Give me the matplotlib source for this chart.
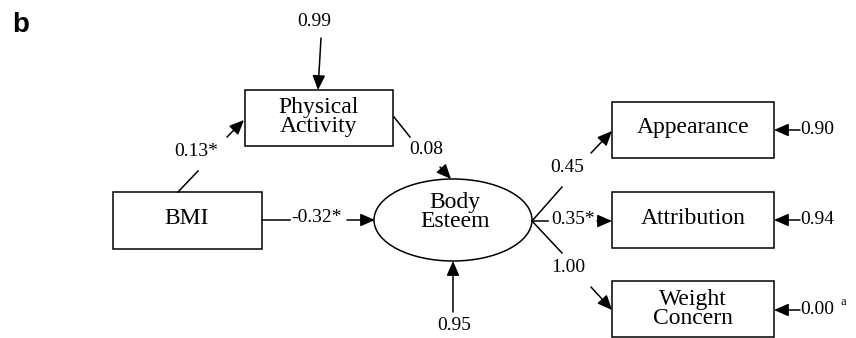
import matplotlib.pyplot as plt
from matplotlib.patches import Rectangle, Ellipse, FancyArrowPatch

# path model values
nodes = ['Physical\nActivity', 'BMI', 'Body\nEsteem', 'Appearance', 'Attribution', 'Weight\nConcern']
paths = ['0.13*', '0.08', '-0.32*', '0.45', '0.35*', '1.00']
residuals = ['0.99', '0.95', '0.90', '0.94', '0.00']

# layout in pixels (x right, y down)
boxes = {'Physical\nActivity': (245, 90, 148, 56), 'BMI': (113, 192, 149, 57),
         'Appearance': (612, 102, 162, 56), 'Attribution': (612, 192, 162, 56),
         'Weight\nConcern': (612, 281, 162, 56)}
node_xy = [(319, 117), (187, 218), (455, 212), (693, 128), (693, 218), (693, 309)]
ell = (453, 220, 158, 82)

path_xy = [(196, 151), (426, 150), (317, 218), (567, 168), (573, 220), (568, 267)]
# each path: plain segment before label, arrow after label
path_lines = [((178, 192), (198, 171)), ((394, 117), (410, 137)), ((262, 220), (290, 220)),
              ((532, 221), (562, 187)), ((532, 221), (548, 221)), ((532, 221), (562, 253))]
path_arrows = [((227, 137), (244, 120)), ((440, 167), (451, 179)), ((347, 220), (375, 220)),
               ((591, 153), (612, 131)), ((597, 221), (612, 221)), ((591, 287), (612, 310))]

res_xy = [(314, 21), (454, 325), (817, 129), (817, 219), (817, 309)]
res_arrows = [((321, 38), (318, 90)), ((453, 312), (453, 261)), ((800, 130), (774, 130)),
              ((800, 220), (774, 220)), ((800, 310), (774, 310))]

fig = plt.figure(figsize=(8.56, 3.38), dpi=100)
ax = fig.add_axes([0, 0, 1, 1])
ax.set_xlim(0, 856)
ax.set_ylim(338, 0)
ax.axis('off')

serif = 'Liberation Serif'
lw = 1.1

for name, (x, y, w, h) in boxes.items():
    ax.add_patch(Rectangle((x, y), w, h, fill=False, ec='black', lw=lw))
cx, cy, ew, eh = ell
ax.add_patch(Ellipse((cx, cy), ew, eh, fill=False, ec='black', lw=lw))

for name, (x, y) in zip(nodes, node_xy):
    ax.text(x, y, name, family=serif, fontsize=17, ha='center', va='center',
            linespacing=0.85)

def arrow(p0, p1):
    ax.add_patch(FancyArrowPatch(p0, p1, arrowstyle='-|>,head_length=0.8,head_width=0.35',
                                 mutation_scale=11, lw=lw, color='black',
                                 shrinkA=0, shrinkB=0))

for (a, b) in path_lines:
    ax.plot([a[0], b[0]], [a[1], b[1]], color='black', lw=lw)
for (a, b) in path_arrows + res_arrows:
    arrow(a, b)

for lab, (x, y) in zip(paths, path_xy):
    ax.text(x, y, lab, family=serif, fontsize=14, ha='center', va='center')
for lab, (x, y) in zip(residuals, res_xy):
    ax.text(x, y, lab, family=serif, fontsize=14, ha='center', va='center')
ax.text(843, 302, 'a', family=serif, fontsize=9, ha='center', va='center')

ax.text(21, 25, 'b', family='Liberation Sans', fontweight='bold', fontsize=20,
        ha='center', va='center')

fig.savefig('out.png', dpi=100)
